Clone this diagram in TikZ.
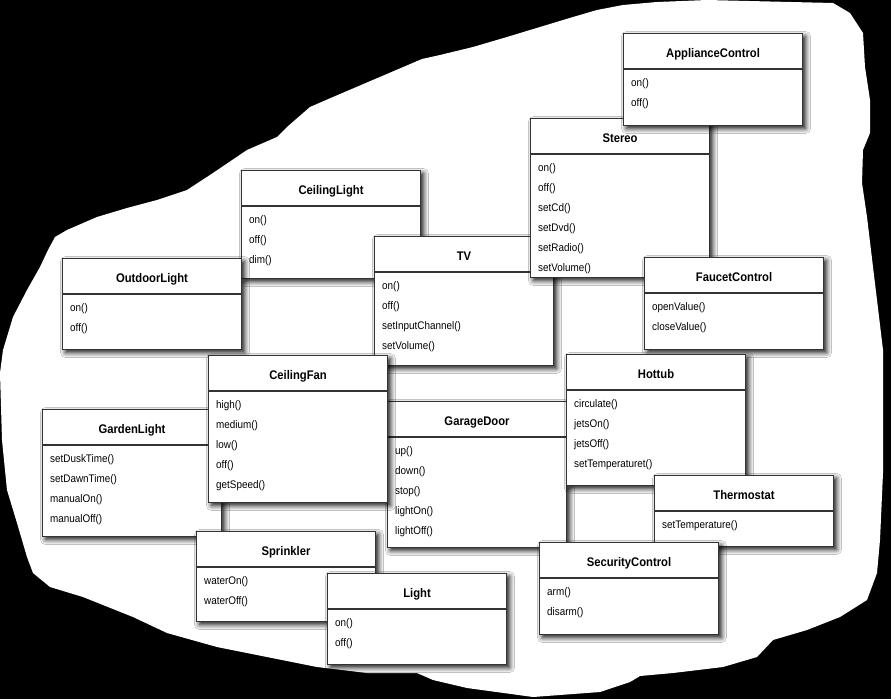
\documentclass[tikz,border=0pt]{standalone}
\usepackage{fontspec}
\setmainfont{Liberation Sans}[FakeStretch=0.9]
\usepackage{tikz}
\usetikzlibrary{shadows.blur}
\tikzstyle{classbox} = [rectangle, draw=black!80, line width=1pt, fill=white, anchor=north west, minimum width=179pt, inner sep=0pt, blur shadow={shadow xshift=3pt, shadow yshift=-3pt, shadow blur radius=5pt, shadow blur steps=8, shadow opacity=95}]
\tikzstyle{classname} = [anchor=base, inner sep=0pt, font=\fontsize{12.5}{14}\selectfont\bfseries]
\tikzstyle{classop} = [anchor=base west, inner sep=0pt, font=\fontsize{11}{13}\selectfont]
\tikzstyle{classsep} = [draw=black!80, line width=1.6pt]
% id, left, top, height, name, operations
\newcommand{\umlclass}[6]{
  \node[classbox, minimum height=#4pt] (#1) at (#2,#3) {};
  \node[classname] (#1-name) at ([yshift=-24pt]#1.north) {#5};
  \coordinate (#1-sep) at ([yshift=-36pt]#1.north west);
  \draw[classsep] (#1-sep) -- (#1-sep -| #1.east);
  \foreach \op [count=\i] in {#6}
    \node[classop] (#1-op\i) at ([shift={(8,17+20*\i-20)}]#1-sep) {\op};
}

\begin{document}
\begin{tikzpicture}[x=1pt,y=-1pt]
  \useasboundingbox (0,0) rectangle (891,699);
  \fill[black] (0,0) rectangle (891,699);
  % the white blob
  \fill[white] (3,350) -- (13,317) -- (27,290) -- (40,267) -- (48,250) -- (55,237)
    -- (67,230) -- (97,217) -- (127,208) -- (157,200) -- (187,190) -- (213,173)
    -- (247,150) -- (277,137) -- (287,127) -- (310,107) -- (333,97) -- (422,59)
    -- (440,55) -- (473,47) -- (507,37) -- (540,27) -- (573,17) -- (597,10)
    -- (623,5) -- (657,2) -- (707,0) -- (833,3) -- (850,13) -- (863,33)
    -- (865,67) -- (870,100) -- (870,133) -- (863,150) -- (862,183) -- (867,217)
    -- (873,267) -- (877,300) -- (883,350) -- (883,407) -- (883,473) -- (880,540)
    -- (877,573) -- (867,600) -- (840,617) -- (807,630) -- (773,640) -- (757,657)
    -- (723,667) -- (673,673) -- (640,676) -- (630,682) -- (600,692) -- (533,697)
    -- (467,688) -- (433,680) -- (417,673) -- (367,673) -- (317,667) -- (267,657)
    -- (217,647) -- (167,633) -- (133,617) -- (83,597) -- (50,587) -- (33,573)
    -- (27,557) -- (17,523) -- (7,490) -- (2,440) -- (0,373) -- cycle;

  \umlclass{ceilinglight}{241}{170}{108}{CeilingLight}{on(), off(), dim()}
  \umlclass{outdoorlight}{62}{258}{91}{OutdoorLight}{on(), off()}
  \umlclass{tv}{374}{236}{129}{TV}{on(), off(), setInputChannel(), setVolume()}
  \umlclass{stereo}{530}{118}{159}{Stereo}{on(), off(), setCd(), setDvd(), setRadio(), setVolume()}
  \umlclass{appliance}{623}{33}{92}{ApplianceControl}{on(), off()}
  \umlclass{faucet}{644}{257}{92}{FaucetControl}{openValue(), closeValue()}
  \umlclass{garagedoor}{387}{401}{146}{GarageDoor}{up(), down(), stop(), lightOn(), lightOff()}
  \umlclass{gardenlight}{42}{409}{127}{GardenLight}{setDuskTime(), setDawnTime(), manualOn(), manualOff()}
  \umlclass{ceilingfan}{208}{355}{147}{CeilingFan}{high(), medium(), low(), off(), getSpeed()}
  \umlclass{hottub}{566}{354}{131}{Hottub}{circulate(), jetsOn(), jetsOff(), setTemperaturet()}
  \umlclass{thermostat}{654}{475}{71}{Thermostat}{setTemperature()}
  \umlclass{security}{539}{542}{92}{SecurityControl}{arm(), disarm()}
  \umlclass{sprinkler}{196}{531}{90}{Sprinkler}{waterOn(), waterOff()}
  \umlclass{light}{327}{573}{91}{Light}{on(), off()}
\end{tikzpicture}
\end{document}
